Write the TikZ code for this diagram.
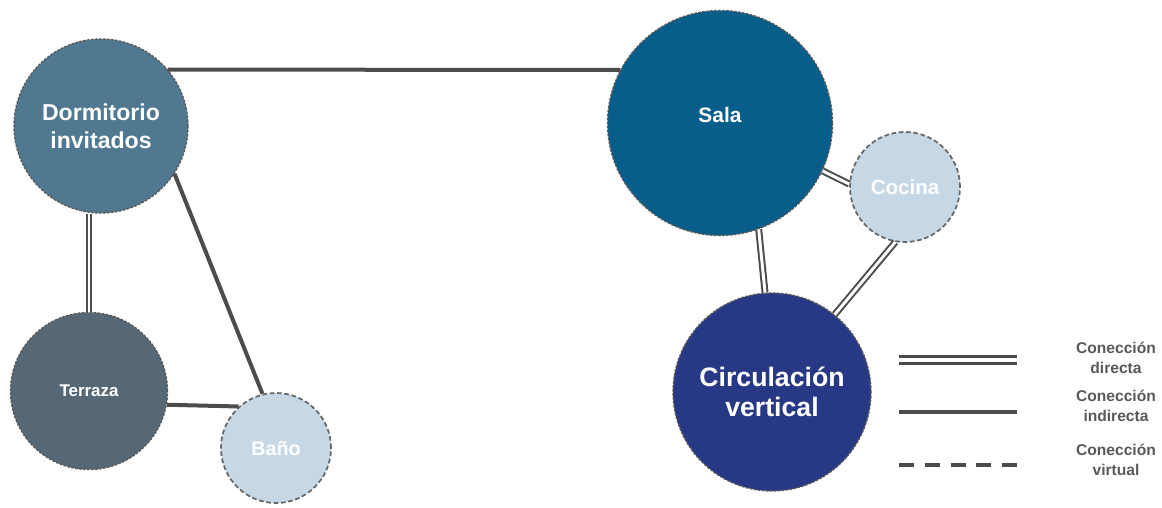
\documentclass[tikz,border=0pt]{standalone}
\usepackage{fontspec}
\setmainfont{Liberation Sans}
\usetikzlibrary{calc}
\definecolor{dormcol}{RGB}{80,120,144}
\definecolor{terrcol}{RGB}{86,104,118}
\definecolor{salacol}{RGB}{8,94,138}
\definecolor{circcol}{RGB}{39,57,133}
\definecolor{lightcol}{RGB}{198,216,229}
\colorlet{linecol}{black!70}
\tikzstyle{directa}=[draw=linecol,line width=1.5pt,double=white,double distance=2.2pt]
\tikzstyle{indirecta}=[draw=linecol,line width=3pt]
\tikzstyle{virtual}=[draw=linecol,line width=2.3pt,dash pattern=on 11.25pt off 8.06pt]

\begin{document}
\begin{tikzpicture}[x=0.75pt,y=-0.75pt,
                    room/.style = {circle, inner sep=0pt, align=center,
                              draw=black!65, line width=1pt,
                              dash pattern=on 2pt off 1pt, text=white},
                    light/.style = {fill=lightcol, draw=black!60, line width=1.3pt,
                              dash pattern=on 3.5pt off 2pt},
                    key/.style = {text=black!65, align=center,
                              font=\bfseries\fontsize{11.7}{14.5}\selectfont}
               ]
               \useasboundingbox (0,0) rectangle (1162,507);

               % rooms
               \node[room, fill=dormcol, minimum size=130.5pt,
                     font=\bfseries\fontsize{17.3}{21}\selectfont] (dorm) at (101,126) {Dormitorio\\invitados};
               \node[room, fill=terrcol, minimum size=117.75pt,
                     font=\bfseries\fontsize{12.7}{15}\selectfont] (terraza) at (89,391) {Terraza};
               \node[room, light, minimum size=82.5pt,
                     font=\bfseries\fontsize{14.8}{17}\selectfont] (bano) at (276,448) {Baño};
               \node[room, fill=salacol, minimum size=168.75pt] (sala) at (720,123) {};
               \node[text=white, font=\bfseries\fontsize{15.7}{18}\selectfont] (salatext)
                     at ([yshift=6pt]sala.center) {Sala};
               \node[room, light, minimum size=82.5pt,
                     font=\bfseries\fontsize{15.4}{18}\selectfont] (cocina) at (905,187) {Cocina};
               \node[room, fill=circcol, minimum size=148.5pt,
                     font=\bfseries\fontsize{20}{23}\selectfont] (circ) at (772,392) {Circulación\\vertical};

               % connections
               \draw[indirecta] (dorm.40) -- (sala.152);
               \draw[indirecta] (dorm.-33) -- (bano.104);
               \draw[indirecta] (terraza.-10) -- (bano.132);
               \draw[directa] (terraza.north) -- (terraza.north |- dorm.south);
               \draw[directa] (sala.-25) -- (cocina.177);
               \draw[directa] (sala.-70) -- (circ.94);
               \draw[directa] (cocina.-100) -- (circ.51);

               % legend
               \coordinate (k1a) at (899,360);  \coordinate (k1b) at (1017,360);
               \coordinate (k2a) at (899,412);  \coordinate (k2b) at (1017,412);
               \coordinate (k3a) at (899,465);  \coordinate (k3b) at (1017,465);
               \draw[directa, line width=2pt, double distance=3.5pt] (k1a) -- (k1b);
               \draw[indirecta, line width=2.5pt] (k2a) -- (k2b);
               \draw[virtual] (k3a) -- (k3b);
               \node[key] (k1) at (1116,358) {Conección\\directa};
               \node[key] (k2) at (1116,406) {Conección\\indirecta};
               \node[key] (k3) at (1116,460) {Conección\\virtual};
          \end{tikzpicture}
\end{document}
